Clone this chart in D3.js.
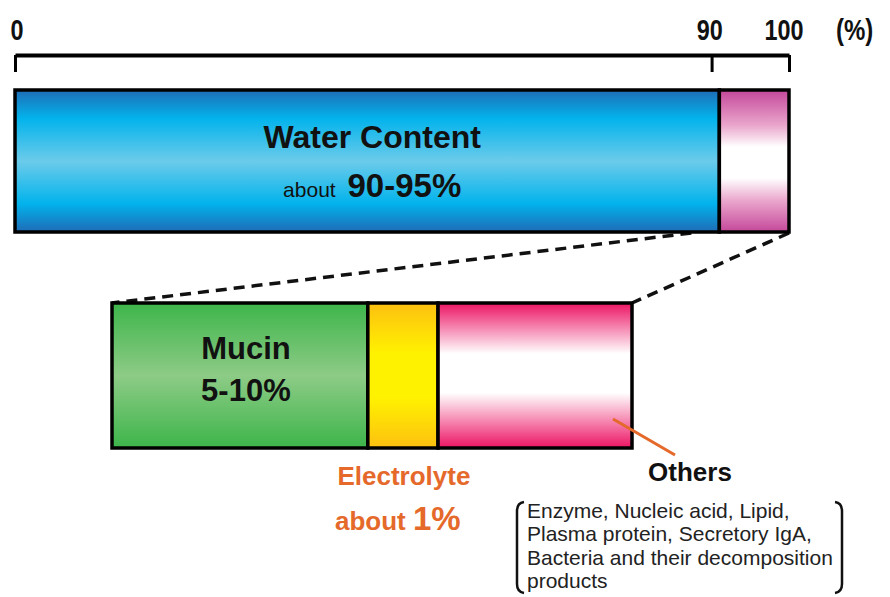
<!DOCTYPE html>
<html>
<head>
<meta charset="utf-8">
<script src="https://cdn.jsdelivr.net/npm/d3@7"></script>
<style>
  body { margin: 0; background: #fff; }
  svg { display: block; font-family: Arial, "Liberation Sans", sans-serif; }
</style>
</head>
<body>
<svg id="chart" width="890" height="597"></svg>
<script>
// composition of saliva (percent)
const axisTicks = [0, 90, 100];
const topCategories = ["Water Content", "Others"];
const topValues = [91, 9];
// breakdown of the non-water part (share of the zoomed bar)
const subCategories = ["Mucin", "Electrolyte", "Others"];
const subValues = [49.2, 13.5, 37.3];
const othersItems = [
  "Enzyme, Nucleic acid, Lipid,",
  "Plasma protein, Secretory IgA,",
  "Bacteria and their decomposition",
  "products"
];

const svg = d3.select("#chart");
const defs = svg.append("defs");

function bandGradient(id, stops) {
  const g = defs.append("linearGradient")
    .attr("id", id)
    .attr("x1", 0).attr("y1", 0).attr("x2", 0).attr("y2", 1);
  stops.forEach(s => g.append("stop").attr("offset", s[0]).attr("stop-color", s[1]));
}

bandGradient("g-water", [[0, "#1f6cb6"], [0.2, "#02b3ec"], [0.5, "#6ccbea"], [0.8, "#02b3ec"], [1, "#1f6cb6"]]);
bandGradient("g-topothers", [[0, "#c4479a"], [0.25, "#eaa6cc"], [0.4, "#ffffff"], [0.62, "#ffffff"], [0.78, "#eaa6cc"], [1, "#c4479a"]]);
bandGradient("g-mucin", [[0, "#3db54a"], [0.5, "#8dcb86"], [1, "#3db54a"]]);
bandGradient("g-electro", [[0, "#fdc010"], [0.35, "#fff200"], [0.65, "#fff200"], [1, "#fdc010"]]);
bandGradient("g-others", [[0, "#ec1464"], [0.35, "#ffffff"], [0.62, "#ffffff"], [1, "#ec1464"]]);

const x = d3.scaleLinear().domain([0, 100]).range([15, 789]);
const xSub = d3.scaleLinear().domain([0, 100]).range([112, 632]);

// top axis (labels condensed like the original)
const axis = svg.append("g")
  .attr("transform", "translate(0,55)")
  .call(d3.axisTop(x).tickValues(axisTicks).tickSizeInner(-17).tickSizeOuter(0).tickPadding(15));
axis.select(".domain").attr("stroke", "#000").attr("stroke-width", 4);
axis.selectAll(".tick line").attr("stroke", "#000").attr("stroke-width", 3);
axis.selectAll(".tick text")
  .attr("fill", "#111")
  .attr("font-size", 30)
  .attr("font-weight", "bold")
  .attr("transform", "scale(0.78,1)")
  .attr("dx", d => d === 100 ? -7 : (d === 0 ? 2 : -3));
svg.append("text")
  .attr("transform", "translate(836,40) scale(0.8,1)")
  .attr("font-size", 30).attr("font-weight", "bold")
  .attr("fill", "#111")
  .text("(%)");

function stackData(values) {
  let acc = 0;
  return values.map(v => { const d = { x0: acc, x1: acc + v }; acc += v; return d; });
}

const topStack = stackData(topValues);
const subStack = stackData(subValues);
const topY = 90, topH = 142;
const subY = 303, subH = 145;

// dashed zoom lines
svg.append("g")
  .selectAll("line")
  .data([[x(topStack[1].x0) - 28, xSub(0)], [x(100), xSub(100)]])
  .enter()
  .append("line")
  .attr("x1", d => d[0]).attr("y1", topY + topH + 1)
  .attr("x2", d => d[1]).attr("y2", subY)
  .attr("stroke", "#111")
  .attr("stroke-width", 3.5)
  .attr("stroke-dasharray", "11,7");

// top bar
svg.append("g")
  .selectAll("rect")
  .data(topStack)
  .enter()
  .append("rect")
  .attr("x", d => x(d.x0))
  .attr("y", topY)
  .attr("width", d => x(d.x1) - x(d.x0))
  .attr("height", topH)
  .attr("fill", (d, i) => i === 0 ? "url(#g-water)" : "url(#g-topothers)")
  .attr("stroke", "#000")
  .attr("stroke-width", 3.5);

// sub bar
svg.append("g")
  .selectAll("rect")
  .data(subStack)
  .enter()
  .append("rect")
  .attr("x", d => xSub(d.x0))
  .attr("y", subY)
  .attr("width", d => xSub(d.x1) - xSub(d.x0))
  .attr("height", subH)
  .attr("fill", (d, i) => ["url(#g-mucin)", "url(#g-electro)", "url(#g-others)"][i])
  .attr("stroke", "#000")
  .attr("stroke-width", 3.5);

// labels inside bars
const waterCx = (x(topStack[0].x0) + x(topStack[0].x1)) / 2;
svg.append("text")
  .attr("x", waterCx + 5).attr("y", 148)
  .attr("text-anchor", "middle")
  .attr("font-size", 32).attr("font-weight", "bold").attr("fill", "#111")
  .text(topCategories[0]);
const aboutWater = svg.append("text")
  .attr("x", waterCx + 5).attr("y", 197)
  .attr("text-anchor", "middle")
  .attr("fill", "#111");
aboutWater.append("tspan").attr("font-size", 21).text("about ");
aboutWater.append("tspan").attr("font-size", 33).attr("font-weight", "bold").attr("dx", 6).text("90-95%");

const mucinCx = (xSub(subStack[0].x0) + xSub(subStack[0].x1)) / 2;
svg.append("text")
  .attr("x", mucinCx + 6).attr("y", 359)
  .attr("text-anchor", "middle")
  .attr("font-size", 31).attr("font-weight", "bold").attr("fill", "#111")
  .text(subCategories[0]);
svg.append("text")
  .attr("x", mucinCx + 6).attr("y", 401)
  .attr("text-anchor", "middle")
  .attr("font-size", 31).attr("font-weight", "bold").attr("fill", "#111")
  .text("5-10%");

// electrolyte label
const orange = "#e5692a";
const elCx = (xSub(subStack[1].x0) + xSub(subStack[1].x1)) / 2;
svg.append("text")
  .attr("x", elCx + 1).attr("y", 485)
  .attr("text-anchor", "middle")
  .attr("font-size", 26).attr("font-weight", "bold").attr("fill", orange)
  .text(subCategories[1]);
const aboutEl = svg.append("text")
  .attr("x", 335).attr("y", 530)
  .attr("font-weight", "bold").attr("fill", orange);
aboutEl.append("tspan").attr("font-size", 26).text("about ");
aboutEl.append("tspan").attr("font-size", 33).text("1%");

// others pointer + label
svg.append("line")
  .attr("x1", 613).attr("y1", 419)
  .attr("x2", 675).attr("y2", 455)
  .attr("stroke", orange)
  .attr("stroke-width", 3);
svg.append("text")
  .attr("x", 690).attr("y", 481)
  .attr("text-anchor", "middle")
  .attr("font-size", 26).attr("font-weight", "bold").attr("fill", "#111")
  .text(subCategories[2]);

// bracketed list
const bracket = svg.append("g").attr("fill", "none").attr("stroke", "#111").attr("stroke-width", 2.5);
bracket.append("path").attr("d", "M524,502 Q517,503 517,511 L517,584 Q517,592 524,593");
bracket.append("path").attr("d", "M835,502 Q842,503 842,511 L842,584 Q842,592 835,593");

svg.append("g")
  .selectAll("text")
  .data(othersItems)
  .enter()
  .append("text")
  .attr("x", 527)
  .attr("y", (d, i) => 518 + i * 23.3)
  .attr("font-size", 21)
  .attr("fill", "#222")
  .text(d => d);
</script>
</body>
</html>
